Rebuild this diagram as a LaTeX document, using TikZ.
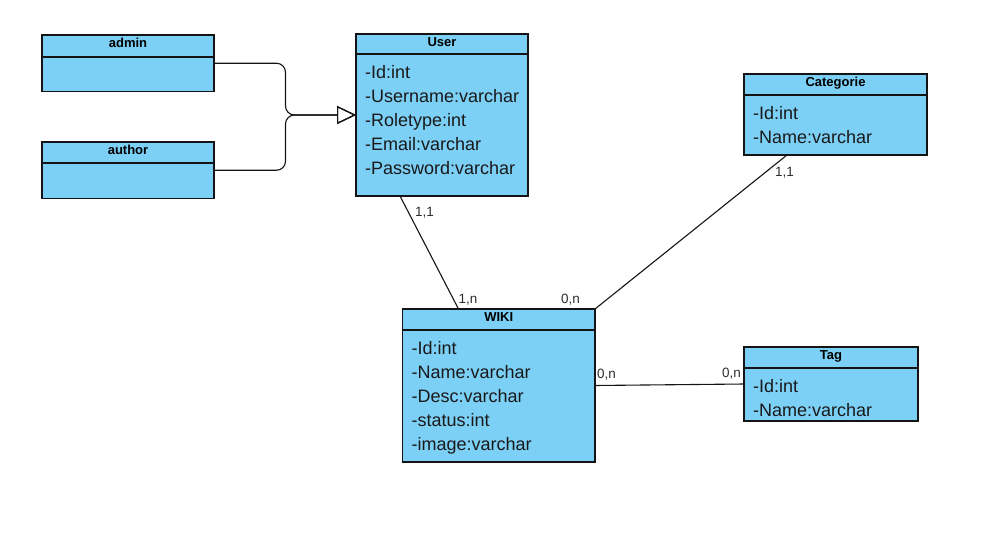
\documentclass[tikz,border=0pt]{standalone}
\usepackage{fontspec}
\setmainfont{Liberation Sans}
\usetikzlibrary{arrows.meta}
\definecolor{classfill}{RGB}{124,207,245}
\definecolor{edgeink}{RGB}{20,20,20}
\definecolor{labelink}{RGB}{45,45,45}

% A UML class: #1 name, #2 left, #3 top, #4 right, #5 bottom of the title band, #6 bottom, #7 title
\newcommand{\umlclass}[7]{%
  \node[classall, minimum width={(#4-#2)*1pt}, minimum height={(#6-#3)*1pt}] (#1) at (#2,#3) {};
  \node[classpart, minimum width={(#4-#2)*1pt}, minimum height={(#5-#3)*1pt}] (#1-head) at (#2,#3) {};
  \node[classpart, minimum width={(#4-#2)*1pt}, minimum height={(#6-#5)*1pt}] (#1-body) at (#2,#5) {};
  \node[classtitle] (#1-title) at ({(#2+#4)/2},#3+12.5) {#7};
}

\begin{document}
\begin{tikzpicture}[x=1pt,y=-1pt,
  classall/.style={inner sep=0pt, outer sep=0pt, anchor=north west},
  classpart/.style={draw=edgeink, fill=classfill, line width=1.2pt, inner sep=0pt, outer sep=0pt, anchor=north west},
  classtitle/.style={font=\fontsize{13}{15}\selectfont\bfseries, text=black, anchor=base, inner sep=0pt},
  attr/.style={font=\fontsize{18}{22}\selectfont, text=black!90, anchor=base west, inner sep=0pt},
  mult/.style={font=\fontsize{13.5}{15}\selectfont, text=labelink, anchor=base west, inner sep=0pt},
  assoc/.style={draw=edgeink, line width=1.1pt},
  generalize/.style={draw=edgeink, line width=1.1pt, rounded corners=9pt,
    -{Triangle[open, length=19pt, width=18pt, line width=1.2pt]}}
]
\useasboundingbox (0,0) rectangle (1001,546);

% classes
\umlclass{admin}{42}{35}{214}{57}{91.5}{admin}
\umlclass{author}{42}{142}{214}{163}{198.5}{author}
\umlclass{user}{356}{34}{528}{54}{196}{User}
\umlclass{categorie}{744}{74}{927}{95}{155}{Categorie}
\umlclass{wiki}{402.5}{309}{595}{330}{462}{WIKI}
\umlclass{tag}{744}{347}{918}{368}{421}{Tag}

% attributes
\foreach \a [count=\i] in {-Id:int,-Username:varchar,-Roletype:int,-Email:varchar,-Password:varchar}
  \node[attr] (user-attr\i) at (365,54+24*\i) {\a};
\foreach \a [count=\i] in {-Id:int,-Name:varchar}
  \node[attr] (categorie-attr\i) at (753,95+24*\i) {\a};
\foreach \a [count=\i] in {-Id:int,-Name:varchar,-Desc:varchar,-status:int,-image:varchar}
  \node[attr] (wiki-attr\i) at (411.5,330+24*\i) {\a};
\foreach \a [count=\i] in {-Id:int,-Name:varchar}
  \node[attr] (tag-attr\i) at (753,368+24*\i) {\a};

% generalization of admin and author into User
\coordinate (fork) at (285.5,115);
\draw[generalize] (admin.east) -| (fork) -- (user.west);
\draw[generalize] (author.east) -| (fork) -- (user.west);

% associations
\draw[assoc] ([xshift=44pt]user.south west) -- ([xshift=56pt]wiki.north west);
\draw[assoc] ([xshift=43pt]categorie.south west) -- (wiki.north east);
\draw[assoc] (wiki.east) -- (tag.west);

% multiplicities
\node[mult] (m-user) at (415,216.5) {1,1};
\node[mult] (m-wiki-user) at (458.5,303) {1,n};
\node[mult] (m-wiki-cat) at (561,303) {0,n};
\node[mult] (m-cat) at (775,176.5) {1,1};
\node[mult] (m-wiki-tag) at (597,378) {0,n};
\node[mult] (m-tag) at (722,377) {0,n};
\end{tikzpicture}
\end{document}
